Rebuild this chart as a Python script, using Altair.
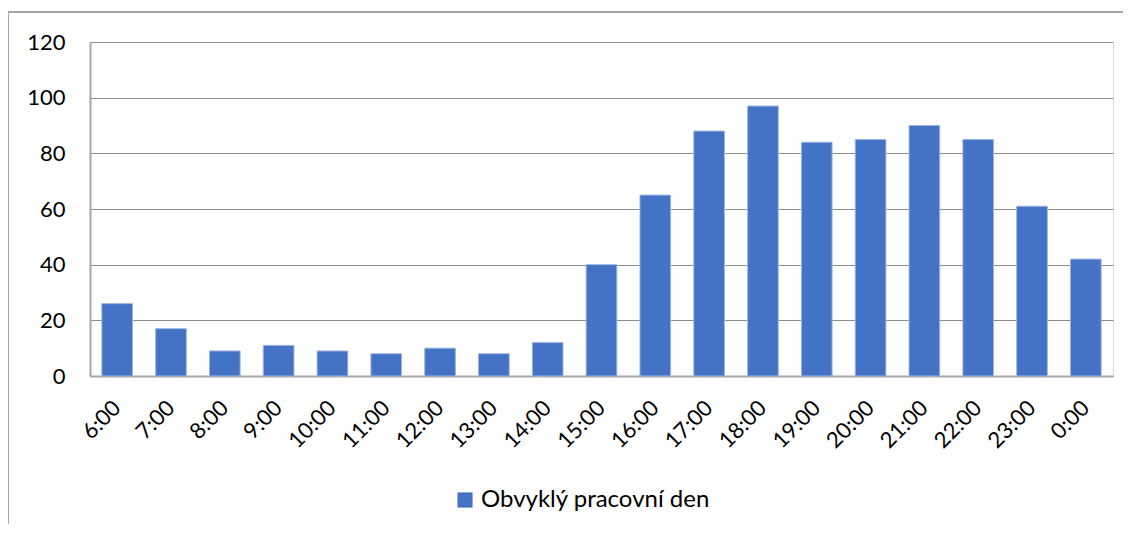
import altair as alt
import pandas as pd

hours = ["6:00", "7:00", "8:00", "9:00", "10:00", "11:00", "12:00", "13:00", "14:00",
         "15:00", "16:00", "17:00", "18:00", "19:00", "20:00", "21:00", "22:00", "23:00", "0:00"]
values = [26, 17, 9, 11, 9, 8, 10, 8, 12, 40, 65, 88, 97, 84, 85, 90, 85, 61, 42]
series = "Obvyklý pracovní den"

df = pd.DataFrame({"hour": hours, "value": values, "series": [series] * len(hours)})

FONT = "Lato"

bars = alt.Chart(df).mark_bar(stroke="#9db5e0", strokeWidth=1).encode(
    x=alt.X("hour:N", sort=hours, title=None,
            scale=alt.Scale(paddingInner=0.43, paddingOuter=0.22),
            axis=alt.Axis(labelAngle=-45, labelAlign="right", labelBaseline="middle",
                          labelFontSize=22, labelColor="#000000", labelFont=FONT,
                          labelPadding=28, ticks=False, domainColor="#a6a6a6",
                          domainWidth=2, grid=False)),
    y=alt.Y("value:Q", title=None,
            scale=alt.Scale(domain=[0, 120]),
            axis=alt.Axis(values=[0, 20, 40, 60, 80, 100, 120], labelFontSize=22,
                          labelColor="#000000", labelFont=FONT, labelPadding=25,
                          ticks=False, domainColor="#a6a6a6", domainWidth=2,
                          gridColor="#8c8c8c", gridWidth=1.2)),
    color=alt.Color("series:N", scale=alt.Scale(range=["#4472C4"]), title=None,
                    legend=alt.Legend(orient="none", legendX=363, legendY=446,
                                      symbolType="square", symbolSize=230,
                                      symbolStrokeWidth=0, labelFontSize=24,
                                      labelFont=FONT, labelColor="#000000",
                                      labelOffset=4, labelLimit=0)),
)

border_left = alt.Chart(df).mark_rule(color="#a6a6a6", strokeWidth=2, clip=False).encode(
    x=alt.value(-82), y=alt.value(-30), y2=alt.value(500))
border_top = alt.Chart(df).mark_rule(color="#a6a6a6", strokeWidth=2, clip=False).encode(
    x=alt.value(-82), x2=alt.value(1045), y=alt.value(-30))

chart = alt.layer(bars, border_left, border_top).properties(
    width=1023, height=334,
    autosize=alt.AutoSizeParams(type="none"),
    padding={"left": 82, "top": 34, "right": 10, "bottom": 148},
).configure_view(stroke="#a6a6a6", strokeWidth=2).configure(font=FONT)

chart.save("out.html", embed_options={"renderer": "svg", "actions": False})
